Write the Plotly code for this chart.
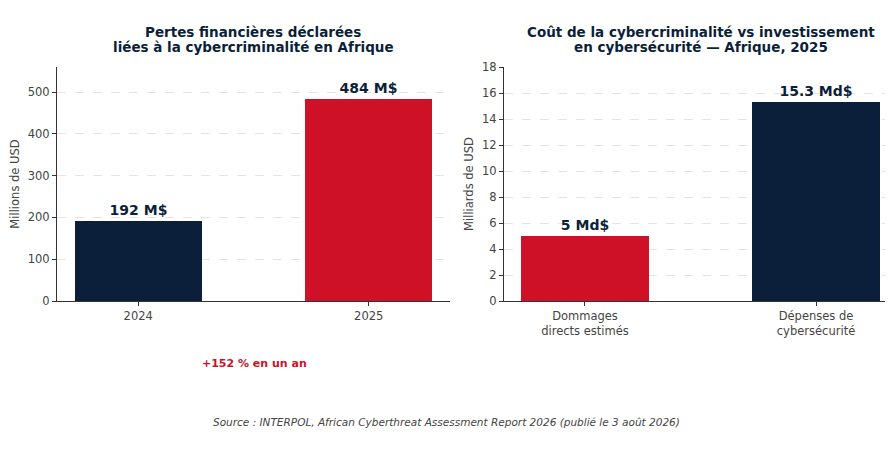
import plotly.graph_objects as go

# Data
years = ["2024", "2025"]
losses_musd = [192, 484]
loss_labels = ["192 M$", "484 M$"]

cost_categories = ["Dommages<br>directs estimés", "Dépenses de<br>cybersécurité"]
cost_busd = [5, 15.3]
cost_labels = ["5 Md$", "15.3 Md$"]

NAVY = "#0b1f3a"
RED = "#ce1126"
GREY = "#444444"
FONT = "DejaVu Sans"

# the page body has an 8px margin; keep the figure inside the window so no scrollbars appear
OFF = 8
W, H = 893 - 2 * OFF, 450 - 2 * OFF

def px_x(p):
    return (p - OFF) / W

def px_y(p):
    return 1 - (p - OFF) / H

fig = go.Figure()

fig.add_trace(go.Bar(
    x=years, y=losses_musd, width=0.55,
    marker=dict(color=[NAVY, RED], line=dict(width=0)),
    text=loss_labels, textposition="outside", cliponaxis=False,
    textfont=dict(family=FONT, size=14, color=NAVY, weight="bold"),
    xaxis="x", yaxis="y", showlegend=False, hoverinfo="skip",
))

fig.add_trace(go.Bar(
    x=cost_categories, y=cost_busd, width=0.55,
    marker=dict(color=[RED, NAVY], line=dict(width=0)),
    text=cost_labels, textposition="outside", cliponaxis=False,
    textfont=dict(family=FONT, size=14, color=NAVY, weight="bold"),
    xaxis="x2", yaxis="y2", showlegend=False, hoverinfo="skip",
))

ydom = [px_y(301), px_y(67)]

axis_common = dict(
    showline=True, linecolor="#333333", linewidth=1.2,
    ticks="outside", ticklen=4, tickcolor="#333333",
    tickfont=dict(family=FONT, size=11.5, color=GREY),
    zeroline=False, automargin=False,
)

fig.update_layout(
    width=W, height=H,
    margin=dict(l=0, r=0, t=0, b=0),
    paper_bgcolor="white", plot_bgcolor="white",
    font=dict(family=FONT, color=GREY),
    bargap=0,
    xaxis=dict(domain=[px_x(57), px_x(450)], type="category",
               range=[-0.3525, 1.3525], anchor="y", showgrid=False, **axis_common),
    yaxis=dict(domain=ydom, range=[0, 560], dtick=100, anchor="x",
               showgrid=True, gridcolor="#e4e4e4", griddash="dash", gridwidth=0.8,
               title=dict(text="Millions de USD", standoff=5,
                          font=dict(family=FONT, size=11.5, color=GREY)),
               **axis_common),
    xaxis2=dict(domain=[px_x(504), 1.0], type="category",
                range=[-0.3506, 1.2987], anchor="y2", showgrid=False, **axis_common),
    yaxis2=dict(domain=ydom, range=[0, 18], dtick=2, anchor="x2",
                showgrid=True, gridcolor="#e4e4e4", griddash="dash", gridwidth=0.8,
                title=dict(text="Milliards de USD", standoff=5,
                           font=dict(family=FONT, size=11.5, color=GREY)),
                **axis_common),
)

# Titles, one annotation per line to keep the tight line spacing
titles = [
    ("Pertes financières déclarées", 253.5, 32),
    ("liées à la cybercriminalité en Afrique", 253.5, 47),
    ("Coût de la cybercriminalité vs investissement", 700.5, 32),
    ("en cybersécurité — Afrique, 2025", 700.5, 47),
]
for txt, cx, cy in titles:
    fig.add_annotation(
        text=f"<b>{txt}</b>",
        x=px_x(cx), y=px_y(cy), xref="paper", yref="paper",
        showarrow=False, xanchor="center", yanchor="middle",
        font=dict(family=FONT, size=13.5, color=NAVY),
    )

# Growth note
fig.add_annotation(
    text="<b>+152 % en un an</b>",
    x=px_x(254), y=px_y(363), xref="paper", yref="paper",
    showarrow=False, xanchor="center", yanchor="middle",
    font=dict(family=FONT, size=11, color=RED),
)

# Source
fig.add_annotation(
    text="<i>Source : INTERPOL, African Cyberthreat Assessment Report 2026 (publié le 3 août 2026)</i>",
    x=px_x(446), y=px_y(422), xref="paper", yref="paper",
    showarrow=False, xanchor="center", yanchor="middle",
    font=dict(family=FONT, size=10.5, color=GREY),
)

fig.write_html("out.html")
